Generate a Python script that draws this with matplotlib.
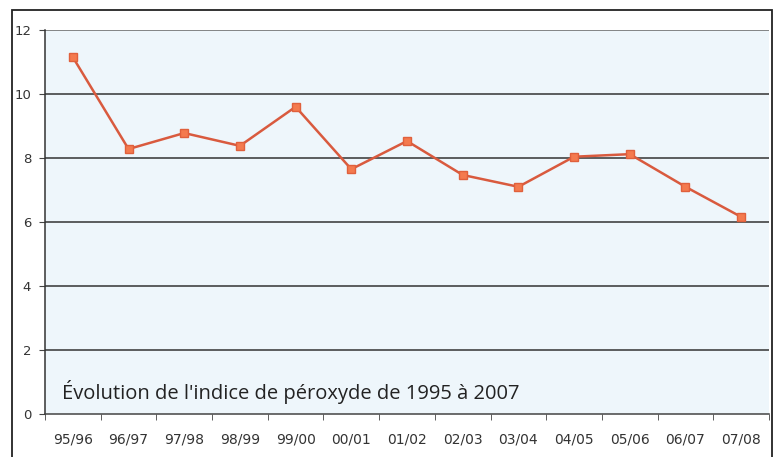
import matplotlib
matplotlib.use("Agg")
import matplotlib.pyplot as plt
from matplotlib.patches import Rectangle

categories = ["95/96", "96/97", "97/98", "98/99", "99/00", "00/01", "01/02",
              "02/03", "03/04", "04/05", "05/06", "06/07", "07/08"]
values = [11.15, 8.28, 8.78, 8.38, 9.6, 7.65, 8.53, 7.47, 7.1, 8.04, 8.12, 7.1, 6.16]
yticks = [0, 2, 4, 6, 8, 10, 12]
title = "Évolution de l'indice de péroxyde de 1995 à 2007"

W, H = 774, 457
fig = plt.figure(figsize=(W / 100, H / 100), dpi=100)
fig.patch.set_facecolor("white")

# outer frame
fig.patches.append(Rectangle((12 / W, -0.01), (772 - 12) / W, (H - 10) / H + 0.01,
                             transform=fig.transFigure, fill=False,
                             edgecolor="#222222", linewidth=1.3))

ax = fig.add_axes([45 / W, (H - 414) / H, (769 - 45) / W, (414 - 30) / H])
ax.set_facecolor("#eef6fb")

x = list(range(len(categories)))
ax.plot(x, values, color="#d95a3e", linewidth=1.8, marker="s", markersize=6,
        markerfacecolor="#f47a4e", markeredgecolor="#e0603c", markeredgewidth=1, zorder=3)

ax.set_xlim(-0.5, len(categories) - 0.5)
ax.set_ylim(0, 12)
ax.set_yticks(yticks)
ax.set_yticklabels([str(v) for v in yticks], fontsize=9.5, color="#333333")
for v in yticks[1:]:
    ax.axhline(v, color="#333333" if v < 12 else "#666666", linewidth=1.1, zorder=1)

ax.set_xticks(x)
ax.set_xticklabels(categories, fontsize=10, color="#333333")
ax.set_xticks([i - 0.5 for i in range(len(categories) + 1)], minor=True)
ax.tick_params(axis="x", which="major", length=0, pad=13)
ax.tick_params(axis="x", which="minor", length=4, direction="out", color="#444444")
ax.tick_params(axis="y", length=4, direction="out", color="#444444", pad=6)

for s in ["top", "right"]:
    ax.spines[s].set_visible(False)
ax.spines["left"].set_color("#333333")
ax.spines["bottom"].set_color("#444444")
ax.spines["left"].set_linewidth(1.1)
ax.spines["bottom"].set_linewidth(1.1)

ax.text(62 / W, (H - 392) / H, title, transform=fig.transFigure, fontsize=14.5,
        color="#222222", va="center", ha="left", family="Open Sans")

fig.savefig("out.png", dpi=100)
